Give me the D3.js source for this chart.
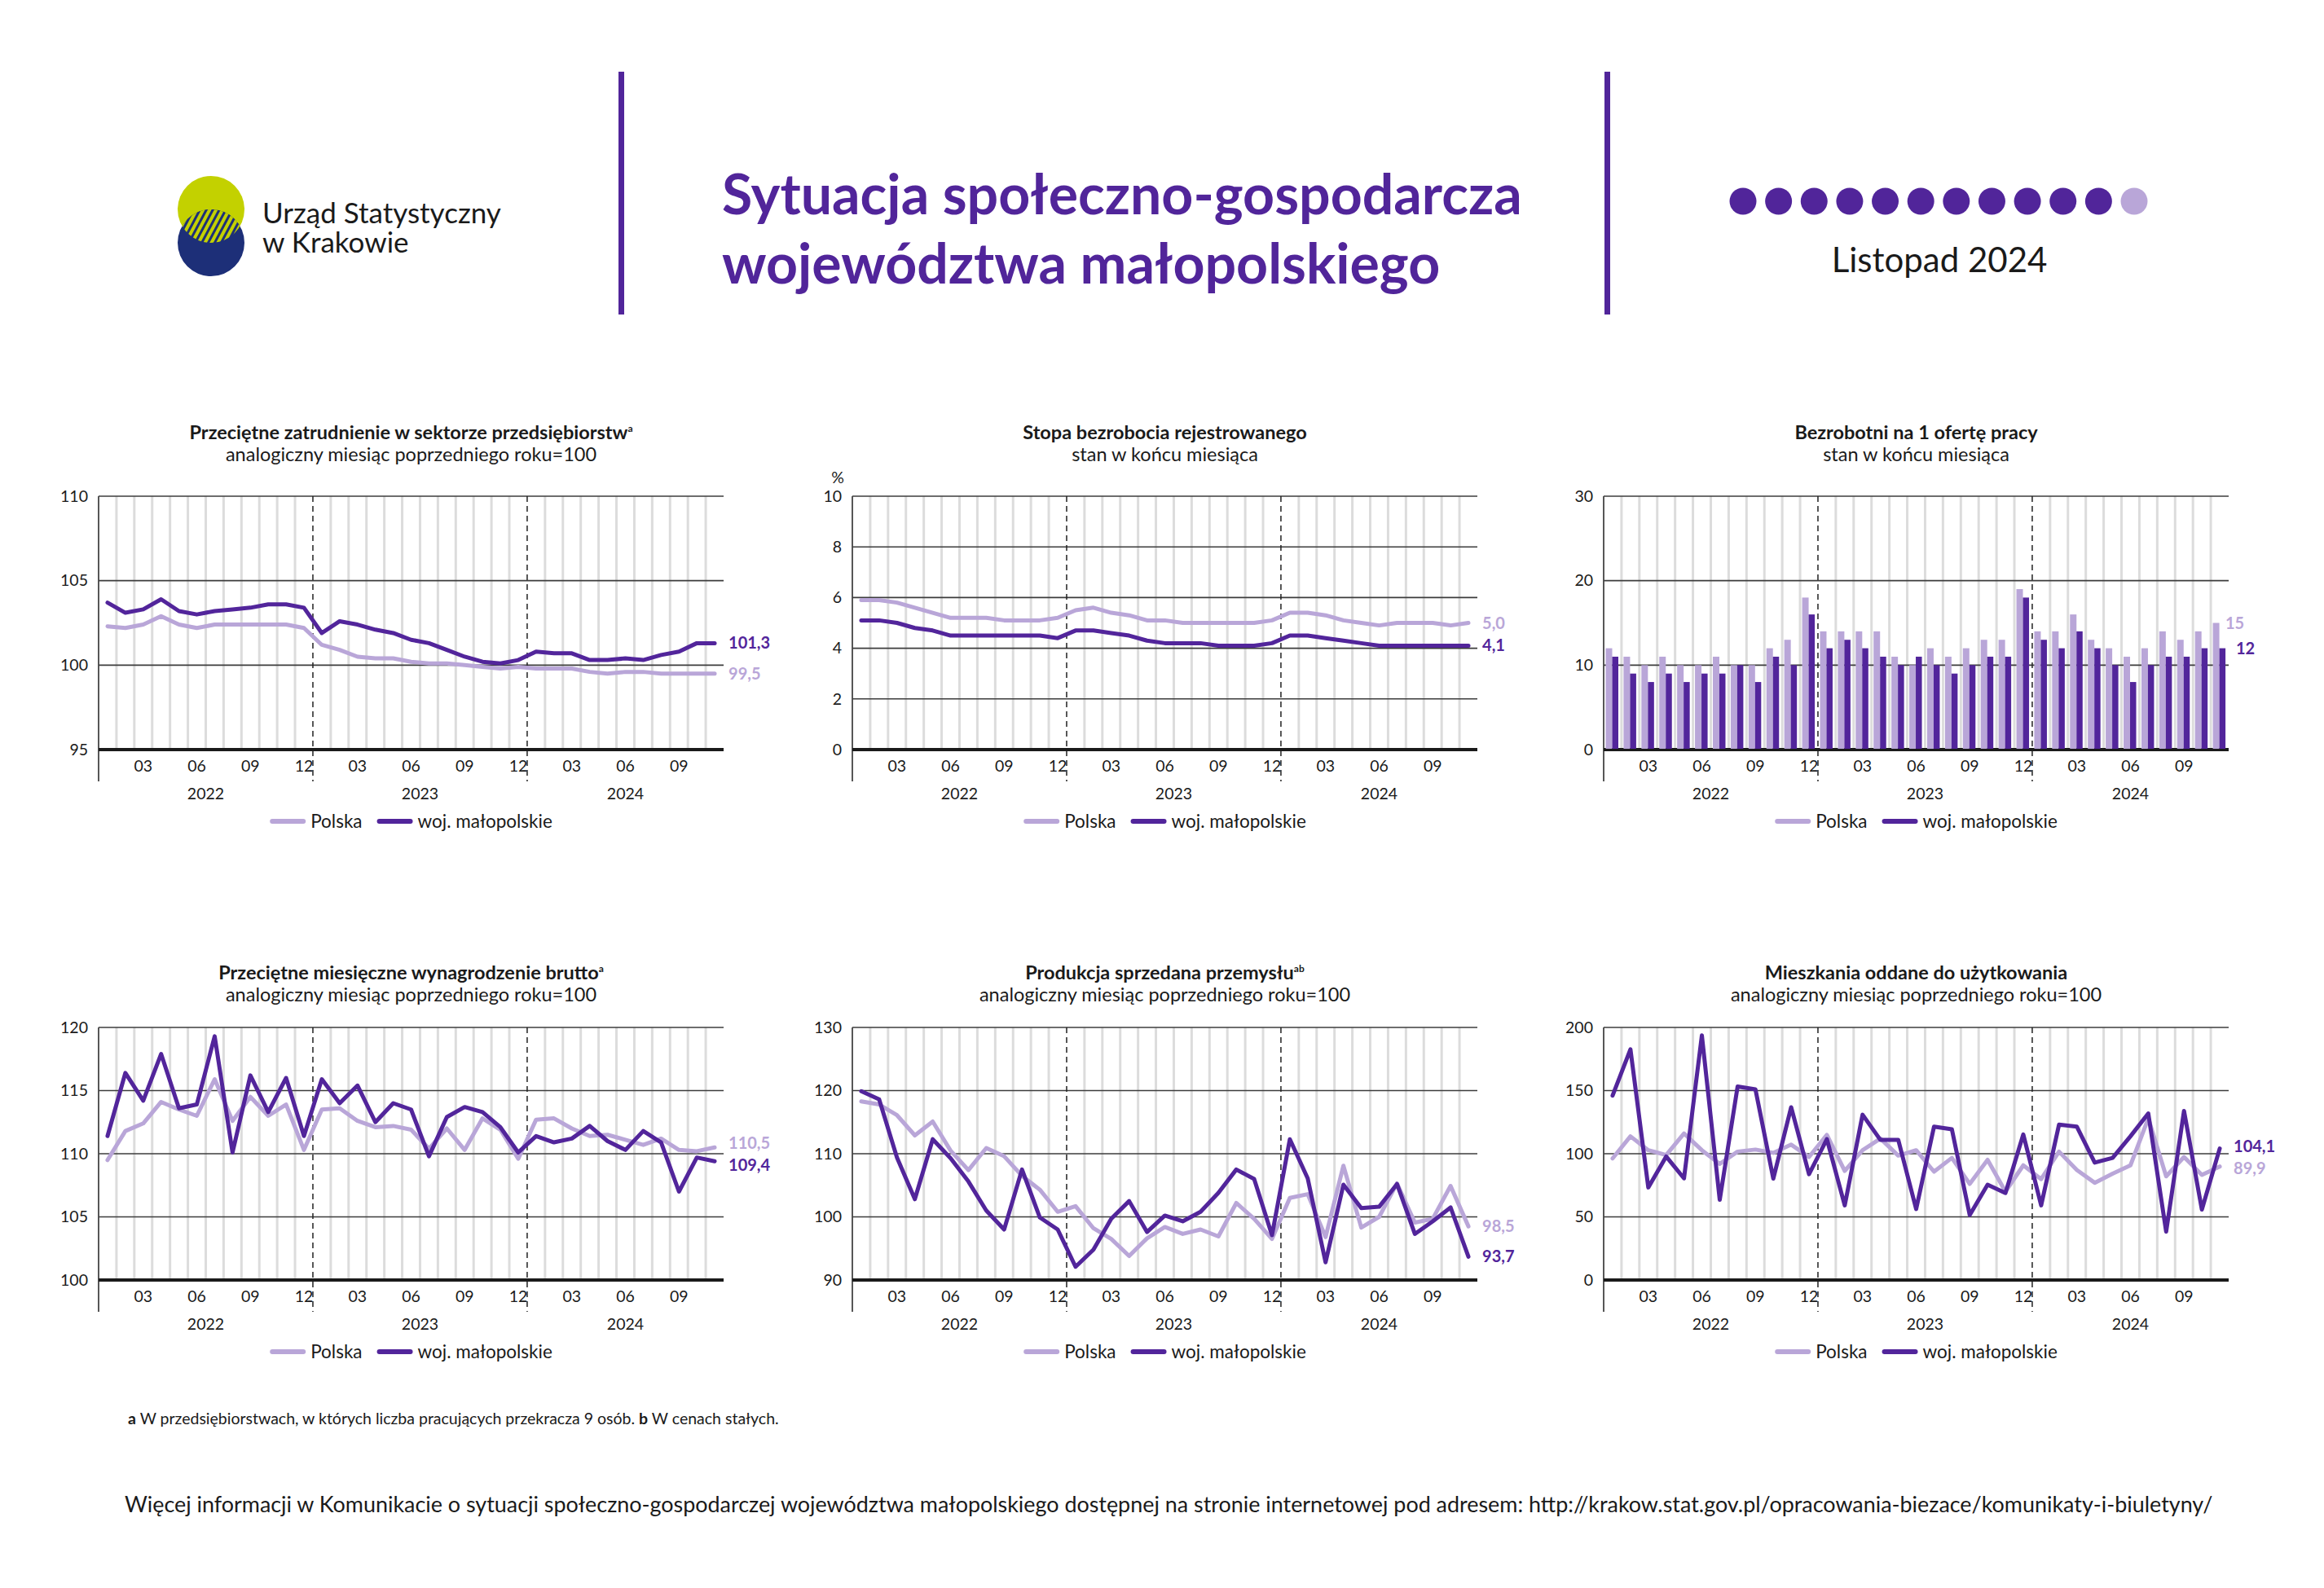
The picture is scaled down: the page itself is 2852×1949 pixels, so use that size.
<!DOCTYPE html>
<html><head><meta charset="utf-8">
<script src="https://cdn.jsdelivr.net/npm/d3@7"></script>
<style>body{margin:0;background:#fff} svg text{font-family:Lato,"Open Sans",sans-serif}</style>
</head><body><svg id="c" width="2852" height="1949"></svg>
<script>
// ---------- DATA ----------
const months = ["2022-01","2022-02","2022-03","2022-04","2022-05","2022-06","2022-07","2022-08","2022-09","2022-10","2022-11","2022-12",
"2023-01","2023-02","2023-03","2023-04","2023-05","2023-06","2023-07","2023-08","2023-09","2023-10","2023-11","2023-12",
"2024-01","2024-02","2024-03","2024-04","2024-05","2024-06","2024-07","2024-08","2024-09","2024-10","2024-11"];
const years = ["2022","2023","2024"];
const monthTickLabels = ["03","06","09","12"];
const seriesNames = ["Polska","woj. małopolskie"];

const zatrudnieniePL = [102.3,102.2,102.4,102.9,102.4,102.2,102.4,102.4,102.4,102.4,102.4,102.2,101.2,100.9,100.5,100.4,100.4,100.2,100.1,100.1,100.0,99.9,99.8,99.9,99.8,99.8,99.8,99.6,99.5,99.6,99.6,99.5,99.5,99.5,99.5];
const zatrudnienieMP = [103.7,103.1,103.3,103.9,103.2,103.0,103.2,103.3,103.4,103.6,103.6,103.4,101.9,102.6,102.4,102.1,101.9,101.5,101.3,100.9,100.5,100.2,100.1,100.3,100.8,100.7,100.7,100.3,100.3,100.4,100.3,100.6,100.8,101.3,101.3];

const bezrobociePL = [5.9,5.9,5.8,5.6,5.4,5.2,5.2,5.2,5.1,5.1,5.1,5.2,5.5,5.6,5.4,5.3,5.1,5.1,5.0,5.0,5.0,5.0,5.0,5.1,5.4,5.4,5.3,5.1,5.0,4.9,5.0,5.0,5.0,4.9,5.0];
const bezrobocieMP = [5.1,5.1,5.0,4.8,4.7,4.5,4.5,4.5,4.5,4.5,4.5,4.4,4.7,4.7,4.6,4.5,4.3,4.2,4.2,4.2,4.1,4.1,4.1,4.2,4.5,4.5,4.4,4.3,4.2,4.1,4.1,4.1,4.1,4.1,4.1];

const ofertaPL = [12,11,10,11,10,10,11,10,10,12,13,18,14,14,14,14,11,10,12,11,12,13,13,19,14,14,16,13,12,11,12,14,13,14,15];
const ofertaMP = [11,9,8,9,8,9,9,10,8,11,10,16,12,13,12,11,10,11,10,9,10,11,11,18,13,12,14,12,10,8,10,11,11,12,12];

const wynagrodzeniePL = [109.5,111.8,112.4,114.1,113.5,113.0,115.9,112.6,114.5,113.0,113.9,110.3,113.5,113.6,112.6,112.1,112.2,111.9,110.4,112.0,110.3,112.8,111.9,109.6,112.7,112.8,112.0,111.4,111.5,111.1,110.7,111.2,110.3,110.2,110.5];
const wynagrodzenieMP = [111.4,116.4,114.2,117.9,113.6,113.9,119.3,110.1,116.2,113.3,116.0,111.4,115.9,114.0,115.4,112.5,114.0,113.5,109.8,112.9,113.7,113.3,112.1,110.1,111.4,110.9,111.2,112.2,111.0,110.3,111.8,110.9,107.0,109.7,109.4];

const produkcjaPL = [118.3,117.8,116.1,112.9,115.1,110.5,107.4,110.9,109.6,106.5,104.3,100.8,101.7,98.2,96.5,93.8,96.6,98.4,97.3,98.0,96.9,102.2,99.7,96.5,103.0,103.6,96.8,108.1,98.3,100.0,105.3,99.1,99.7,104.9,98.5];
const produkcjaMP = [119.9,118.6,109.4,102.8,112.3,109.3,105.6,101.0,98.0,107.5,99.9,98.0,92.1,94.8,99.7,102.5,97.6,100.2,99.3,100.8,103.8,107.5,106.0,97.1,112.3,106.1,92.8,105.1,101.4,101.6,105.2,97.3,99.3,101.5,93.7];

const mieszkaniaPL = [96.3,113.8,102.8,99.0,116.0,102.8,91.9,101.7,103.3,100.7,107.2,97.4,114.9,86.4,102.8,112.0,98.5,102.8,85.8,96.7,76.1,95.2,70.0,90.8,79.9,101.7,87.1,77.0,84.2,90.8,128.0,82.1,97.4,83.2,89.9];
const mieszkaniaMP = [146.0,182.7,73.3,97.8,80.5,193.7,63.5,153.2,151.0,80.3,136.8,83.8,111.6,59.1,130.9,110.9,110.9,56.2,121.4,119.3,51.4,75.5,68.9,115.3,59.1,123.0,121.4,93.0,96.7,113.8,131.9,38.3,133.9,55.8,104.1];

const reportMonth = "Listopad 2024";
const monthsInYear = 12, monthsElapsed = 11;

// ---------- STYLE / LAYOUT ----------
const C_PL = "#b9a6d8", C_MP = "#52259b", PURPLE = "#51259a", TXT = "#1a1a1a";
const svg = d3.select("#c");
svg.append("rect").attr("width",2852).attr("height",1949).attr("fill","#fff");

// Header: logo
const defs = svg.append("defs");
const pat = defs.append("pattern").attr("id","hatch").attr("patternUnits","userSpaceOnUse")
  .attr("width",7).attr("height",7).attr("patternTransform","rotate(28)");
pat.append("rect").attr("width",7).attr("height",7).attr("fill","#c3d100");
pat.append("rect").attr("width",3).attr("height",7).attr("fill","#1d2f78");
defs.append("clipPath").attr("id","lensclip").append("circle").attr("cx",259).attr("cy",257).attr("r",41);
svg.append("circle").attr("cx",259).attr("cy",257).attr("r",41).attr("fill","#c3d100");
svg.append("circle").attr("cx",259).attr("cy",298).attr("r",41).attr("fill","#1d2f78");
svg.append("circle").attr("cx",259).attr("cy",298).attr("r",41).attr("fill","url(#hatch)").attr("clip-path","url(#lensclip)");
svg.append("text").attr("x",322).attr("y",274).attr("font-size",35).attr("fill",TXT).text("Urząd Statystyczny");
svg.append("text").attr("x",322).attr("y",310).attr("font-size",35).attr("fill",TXT).text("w Krakowie");

svg.append("rect").attr("x",759).attr("y",88).attr("width",7).attr("height",298).attr("fill",PURPLE);
svg.append("rect").attr("x",1969).attr("y",88).attr("width",7).attr("height",298).attr("fill",PURPLE);
svg.append("text").attr("x",886).attr("y",263).attr("font-size",68).attr("font-weight",700).attr("fill",PURPLE).text("Sytuacja społeczno-gospodarcza");
svg.append("text").attr("x",886).attr("y",348).attr("font-size",68).attr("font-weight",700).attr("fill",PURPLE).text("województwa małopolskiego");

const dotX = d3.scalePoint().domain(d3.range(monthsInYear)).range([2139,2619]);
svg.append("g").selectAll("circle").data(d3.range(monthsInYear)).join("circle")
  .attr("cx",d=>dotX(d)).attr("cy",247).attr("r",16.5)
  .attr("fill",d=>d<monthsElapsed?PURPLE:C_PL);
svg.append("text").attr("x",2380).attr("y",334).attr("font-size",42).attr("text-anchor","middle").attr("fill",TXT).text(reportMonth);

// Footer
const note = svg.append("text").attr("x",157).attr("y",1748).attr("font-size",19.5).attr("fill",TXT);
note.append("tspan").attr("font-weight",700).text("a");
note.append("tspan").text(" W przedsiębiorstwach, w których liczba pracujących przekracza 9 osób.  ");
note.append("tspan").attr("font-weight",700).text("b");
note.append("tspan").text(" W cenach stałych.");
svg.append("text").attr("x",153).attr("y",1856).attr("font-size",26.9).attr("fill",TXT)
  .text("Więcej informacji w Komunikacie o sytuacji społeczno-gospodarczej województwa małopolskiego dostępnej na stronie internetowej pod adresem: http://krakow.stat.gov.pl/opracowania-biezace/komunikaty-i-biuletyny/");

// Panels
const cols = [121,1046,1968], PW = 767;
const rows = [{top:609,bot:920,title:539,sub:566},{top:1261,bot:1571,title:1202,sub:1229}];
const panels = [
 {col:0,row:0,type:"line",title:"Przeciętne zatrudnienie w sektorze przedsiębiorstw",sup:"a",sub:"analogiczny miesiąc poprzedniego roku=100",domain:[95,110],ticks:[95,100,105,110],pl:zatrudnieniePL,mp:zatrudnienieMP,dec:1},
 {col:1,row:0,type:"line",title:"Stopa bezrobocia rejestrowanego",sub:"stan w końcu miesiąca",unit:"%",domain:[0,10],ticks:[0,2,4,6,8,10],pl:bezrobociePL,mp:bezrobocieMP,dec:1},
 {col:2,row:0,type:"bar",title:"Bezrobotni na 1 ofertę pracy",sub:"stan w końcu miesiąca",domain:[0,30],ticks:[0,10,20,30],pl:ofertaPL,mp:ofertaMP,dec:0},
 {col:0,row:1,type:"line",title:"Przeciętne miesięczne wynagrodzenie brutto",sup:"a",sub:"analogiczny miesiąc poprzedniego roku=100",domain:[100,120],ticks:[100,105,110,115,120],pl:wynagrodzeniePL,mp:wynagrodzenieMP,dec:1},
 {col:1,row:1,type:"line",title:"Produkcja sprzedana przemysłu",sup:"ab",sub:"analogiczny miesiąc poprzedniego roku=100",domain:[90,130],ticks:[90,100,110,120,130],pl:produkcjaPL,mp:produkcjaMP,dec:1},
 {col:2,row:1,type:"line",title:"Mieszkania oddane do użytkowania",sub:"analogiczny miesiąc poprzedniego roku=100",domain:[0,200],ticks:[0,50,100,150,200],pl:mieszkaniaPL,mp:mieszkaniaMP,dec:1}
];

function fmt(v,dec){ return d3.format("."+dec+"f")(v).replace(".",","); }

panels.forEach(p=>{
  const L = cols[p.col], R = L+PW, rw = rows[p.row], T = rw.top, B = rw.bot;
  const g = svg.append("g");
  const x = d3.scaleBand().domain(months).range([L,R]);
  const bw = x.bandwidth();
  const y = d3.scaleLinear().domain(p.domain).range([B,T]);
  const cx = m => x(m)+bw/2;

  g.append("g").selectAll("line").data(months.filter((m,i)=>i>0 && !m.endsWith("-01"))).join("line")
    .attr("x1",d=>x(d)).attr("x2",d=>x(d)).attr("y1",T).attr("y2",B)
    .attr("stroke","#dcdcdc").attr("stroke-width",3);
  g.append("g").selectAll("line").data(p.ticks.filter(t=>t!==p.domain[0])).join("line")
    .attr("x1",L).attr("x2",R).attr("y1",d=>y(d)).attr("y2",d=>y(d))
    .attr("stroke","#3c3c3c").attr("stroke-width",1.6);
  g.append("g").selectAll("line").data(months.filter((m,i)=>i>0 && m.endsWith("-01"))).join("line")
    .attr("x1",d=>x(d)).attr("x2",d=>x(d)).attr("y1",T).attr("y2",B+39)
    .attr("stroke","#222").attr("stroke-width",1.5).attr("stroke-dasharray","7,5");
  g.append("line").attr("x1",L).attr("x2",L).attr("y1",T).attr("y2",B+39).attr("stroke","#444").attr("stroke-width",1.8);
  g.append("line").attr("x1",L).attr("x2",R).attr("y1",B).attr("y2",B).attr("stroke","#1a1a1a").attr("stroke-width",4);

  const last = months[months.length-1];
  if(p.type==="bar"){
    g.append("g").selectAll("rect").data(months).join("rect")
      .attr("x",d=>x(d)+2.5).attr("width",8).attr("y",(d,i)=>y(p.pl[i])).attr("height",(d,i)=>B-1-y(p.pl[i])).attr("fill",C_PL);
    g.append("g").selectAll("rect").data(months).join("rect")
      .attr("x",d=>x(d)+10.5).attr("width",7.5).attr("y",(d,i)=>y(p.mp[i])).attr("height",(d,i)=>B-1-y(p.mp[i])).attr("fill",C_MP);
  } else {
    const line = d3.line().x((d,i)=>cx(months[i])).y(d=>y(d));
    g.append("path").datum(p.pl).attr("d",line).attr("fill","none").attr("stroke",C_PL).attr("stroke-width",5).attr("stroke-linejoin","round").attr("stroke-linecap","round");
    g.append("path").datum(p.mp).attr("d",line).attr("fill","none").attr("stroke",C_MP).attr("stroke-width",5).attr("stroke-linejoin","round").attr("stroke-linecap","round");
  }

  const vPL = p.pl[p.pl.length-1], vMP = p.mp[p.mp.length-1];
  let yPL = y(vPL), yMP = y(vMP);
  const minSep = 27;
  if(Math.abs(yPL-yMP)<minSep){
    const mid=(yPL+yMP)/2, s = yPL<yMP?-1:1;
    yPL = mid + s*minSep/2; yMP = mid - s*minSep/2;
  }
  const xPL = p.type==="bar" ? x(last)+bw-4 : cx(last)+17;
  const xMP = p.type==="bar" ? x(last)+bw+9 : cx(last)+17;
  g.append("text").attr("x",xPL).attr("y",yPL).attr("dy","0.35em").attr("font-size",20).attr("font-weight",700).attr("fill",C_PL).text(fmt(vPL,p.dec));
  g.append("text").attr("x",xMP).attr("y",yMP).attr("dy","0.35em").attr("font-size",20).attr("font-weight",700).attr("fill",C_MP).text(fmt(vMP,p.dec));

  g.append("g").selectAll("text").data(p.ticks).join("text")
    .attr("x",L-13).attr("y",d=>y(d)).attr("dy","0.35em").attr("text-anchor","end")
    .attr("font-size",19.5).attr("fill",TXT).text(d=>d);
  if(p.unit) g.append("text").attr("x",L-18).attr("y",T-16).attr("text-anchor","middle").attr("font-size",19.5).attr("fill",TXT).text(p.unit);
  g.append("g").selectAll("text").data(months.filter(m=>monthTickLabels.includes(m.slice(5)))).join("text")
    .attr("x",d=>cx(d)).attr("y",B+27).attr("text-anchor","middle").attr("font-size",19.5).attr("fill",TXT).text(d=>d.slice(5));
  g.append("g").selectAll("text").data(years).join("text")
    .attr("x",yr=>{const ms=months.filter(m=>m.startsWith(yr)); return (x(ms[0])+x(ms[ms.length-1])+bw)/2;})
    .attr("y",B+61).attr("text-anchor","middle").attr("font-size",19.5).attr("fill",TXT).text(d=>d);
  const tt = g.append("text").attr("x",(L+R)/2).attr("y",rw.title).attr("text-anchor","middle").attr("font-size",23.5).attr("font-weight",700).attr("fill",TXT);
  tt.append("tspan").text(p.title);
  if(p.sup) tt.append("tspan").attr("dy",-9).attr("font-size",12).text(p.sup);
  g.append("text").attr("x",(L+R)/2).attr("y",rw.sub).attr("text-anchor","middle").attr("font-size",23.5).attr("fill",TXT).text(p.sub);
  const lg = g.append("g");
  let lx = 0;
  [[seriesNames[0],C_PL],[seriesNames[1],C_MP]].forEach(([name,col],k)=>{
    if(k>0) lx += 18;
    lg.append("line").attr("x1",lx+3).attr("x2",lx+41).attr("y1",0).attr("y2",0).attr("stroke",col).attr("stroke-width",6).attr("stroke-linecap","round");
    lx += 50;
    const t = lg.append("text").attr("x",lx).attr("y",0).attr("dy","0.35em").attr("font-size",22.5).attr("fill",TXT).text(name);
    lx += t.node().getComputedTextLength();
  });
  lg.attr("transform",`translate(${(L+R)/2 - lx/2},${B+88})`);
});
</script></body></html>
